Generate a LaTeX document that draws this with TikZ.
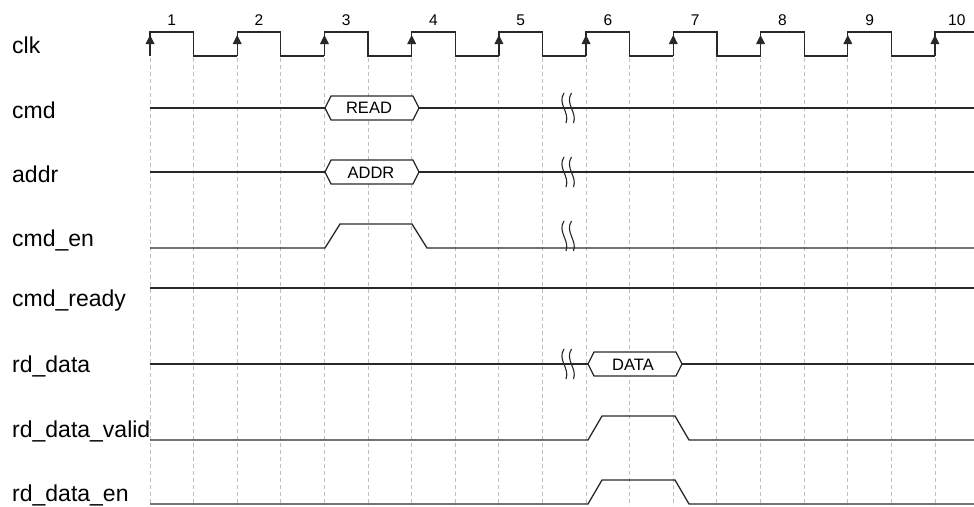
\documentclass[tikz,border=0pt]{standalone}
\usepackage{fontspec}
\setmainfont{Liberation Sans}
\usepackage{tikz}

\definecolor{wire}{RGB}{40,40,40}
\definecolor{gridgray}{RGB}{190,190,190}

\tikzset{
  sig/.style={wire, line width=1.3pt, line join=miter},
  gridline/.style={gridgray, line width=0.9pt, dash pattern=on 4pt off 3pt},
  siglabel/.style={anchor=base west, inner sep=0pt, font=\fontsize{23}{27}\selectfont},
  cyclenum/.style={inner sep=0pt, font=\fontsize{15.5}{18}\selectfont},
  bustext/.style={inner sep=0pt, font=\fontsize{16.5}{20}\selectfont},
  brk/.style={wire, line width=1.1pt},
}

\begin{document}
\begin{tikzpicture}[x=1pt, y=-1pt]
    \useasboundingbox (0,0) rectangle (974,506);
    \def\T{87.22}
    % grid
    \foreach \k in {0,...,18}
      \draw[gridline] (150+\k*\T/2,58) -- (150+\k*\T/2,506);
    % labels
    \node[siglabel] (lclk) at (12,53) {clk};
    \node[siglabel] (lcmd) at (12,118) {cmd};
    \node[siglabel] (laddr) at (12,182) {addr};
    \node[siglabel] (lcmden) at (12,246) {cmd\_en};
    \node[siglabel] (lcmdready) at (12,306) {cmd\_ready};
    \node[siglabel] (lrddata) at (12,372) {rd\_data};
    \node[siglabel] (lrdvalid) at (12,437) {rd\_data\_valid};
    \node[siglabel] (lrden) at (12,501) {rd\_data\_en};
    % clock
    \foreach \i in {0,...,8}
      \draw[sig] (150+\i*\T,56) -- ++(0,-24) -- ++(\T/2,0) -- ++(0,24) -- ++(\T/2,0);
    \draw[sig] (150+9*\T,56) -- ++(0,-24) -- (974,32);
    \foreach \i in {1,...,10} {
      \fill[wire] (150+\i*\T-\T,35) -- ++(-4.5,9) -- ++(9,0) -- cycle;
      \node[cyclenum] (n\i) at (150+\i*\T-\T+21.8,20) {\i};
    }
    % cmd
    \draw[sig] (150,108) -- (325,108);
    \draw[sig] (419,108) -- (974,108);
    \draw[sig, fill=white] (325,108) -- (331,96) -- (413,96) -- (419,108)
      -- (413,120) -- (331,120) -- cycle;
    \node[bustext] (tread) at (369,108) {READ};
    % addr
    \draw[sig] (150,172) -- (325,172);
    \draw[sig] (419,172) -- (974,172);
    \draw[sig, fill=white] (325,172) -- (331,160) -- (413,160) -- (419,172)
      -- (413,184) -- (331,184) -- cycle;
    \node[bustext] (taddr) at (371,173) {ADDR};
    % cmd_en
    \draw[sig] (150,248) -- (325,248) -- (340,224) -- (412,224) -- (427,248) -- (974,248);
    % cmd_ready
    \draw[sig] (150,288) -- (974,288);
    % rd_data
    \draw[sig] (150,364) -- (588,364);
    \draw[sig] (682,364) -- (974,364);
    \draw[sig, fill=white] (588,364) -- (594,352) -- (676,352) -- (682,364)
      -- (676,376) -- (594,376) -- cycle;
    \node[bustext] (tdata) at (633,365) {DATA};
    % rd_data_valid
    \draw[sig] (150,440) -- (588,440) -- (602,416) -- (675,416) -- (689,440) -- (974,440);
    % rd_data_en
    \draw[sig] (150,504) -- (588,504) -- (602,480) -- (675,480) -- (689,504) -- (974,504);
    % breaks
    \foreach \yc in {108,172,236,364}
      \foreach \dx in {0,7.5}
        \draw[brk] (564+\dx,\yc-15) .. controls (557+\dx,\yc-4) and (570+\dx,\yc+4) .. (566+\dx,\yc+15);
\end{tikzpicture}
\end{document}
